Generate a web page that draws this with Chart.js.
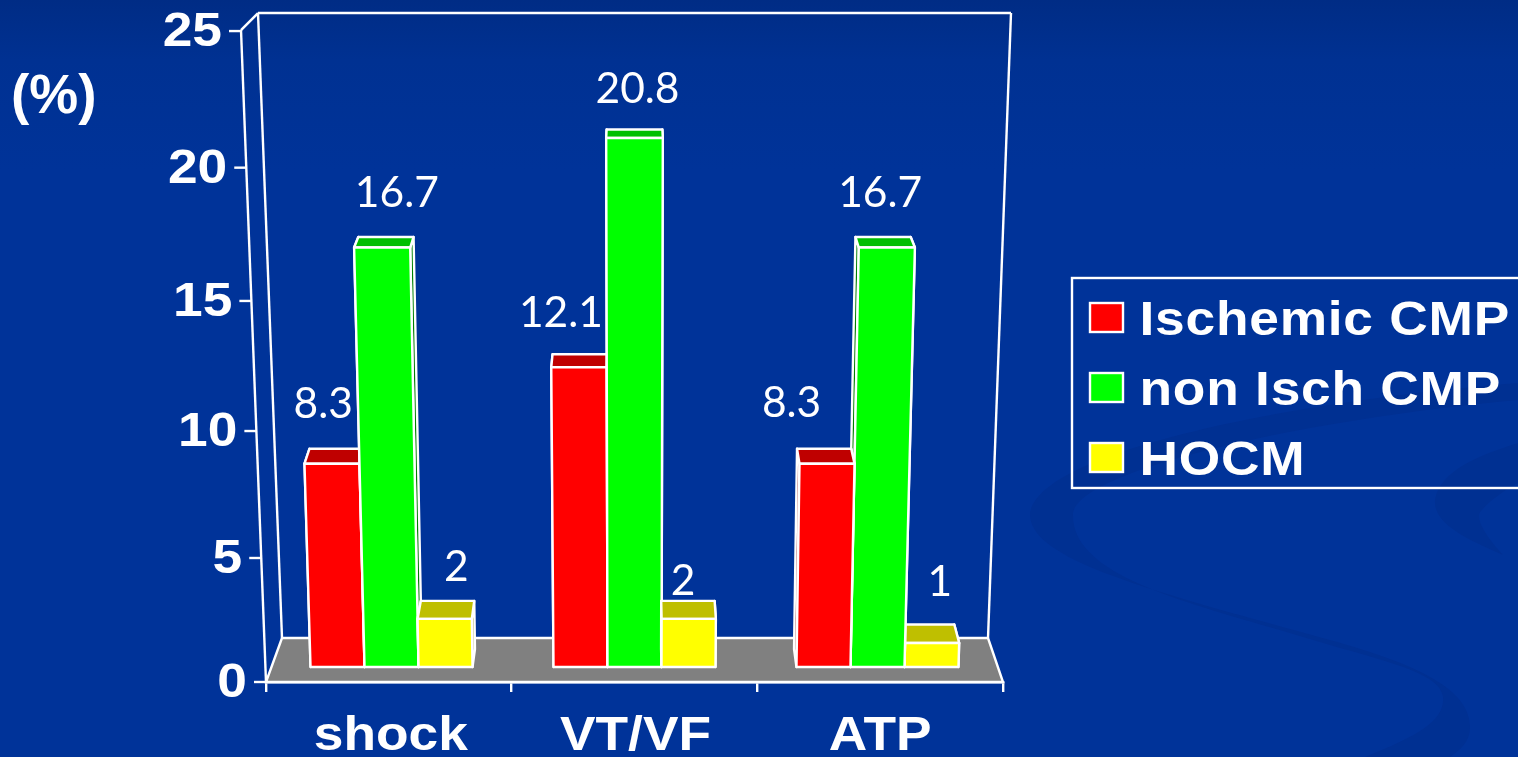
<!DOCTYPE html>
<html>
<head>
<meta charset="utf-8">
<title>Events by cardiomyopathy</title>
<script src="https://cdn.jsdelivr.net/npm/chart.js@4"></script>
<style>
  html, body { margin: 0; height: 100%; overflow: hidden; background: #003399; }
  #slide { position: absolute; left: 0; top: 0; width: 1518px; height: 757px;
           background: linear-gradient(#002c85 0, #003192 60px, #003399 170px); }
  #swirl, #analysisChart { position: absolute; left: 0; top: 0; }
</style>
</head>
<body>
<div id="slide">
  <svg id="swirl" width="1518" height="757">
    <path fill="#003092" d="M1518 383 C1300 400 1040 450 1030 513 C1028 560 1150 590 1330 640 C1420 665 1470 690 1470 727 C1470 742 1460 750 1450 757 L1365 757 C1420 735 1445 720 1443 697 C1440 675 1400 665 1330 645 C1200 605 1070 580 1073 513 C1080 470 1300 420 1518 400 Z"/>
    <path fill="#003092" d="M1518 443 C1480 455 1440 470 1435 500 C1433 525 1470 540 1503 555 C1480 530 1475 515 1482 510 C1490 500 1505 490 1518 483 Z"/>
  </svg>
  <canvas id="analysisChart" width="1518" height="757"></canvas>
</div>
<script>
const categories = ['shock', 'VT/VF', 'ATP'];
const ischemic = [8.3, 12.1, 8.3];
const nonIsch = [16.7, 20.8, 16.7];
const hocm = [2, 2, 1];
const percentTicks = [0, 5, 10, 15, 20, 25];

// value label offsets from each bar's top, [dx, dy], one row per series
const labelNudges = [
    [[-11, 46], [-19, 40], [-34, 47]],
    [[8, 41], [3, 35], [0, 41]],
    [[13, 38], [-6, 24], [5, 47]]
];
const categoryNudges = [2, 1, 0];

const VANISH_X = 634.5;  // bars fan out from this x as they get taller
const SQUEEZE = 0.989;   // bars stand a little behind the front edge of the floor
const FAN = 0.0023;
const BACK = 0.985;
const BOLD = 'bold 48px "Liberation Sans"';
const WIDE = 1.11;       // the bold captions are set extended
const STROKE = 2.4;

function shade(hex, f) {
    const n = parseInt(hex.slice(1), 16);
    const c = [n >> 16, (n >> 8) & 255, n & 255].map(v => Math.round(v * f));
    return `rgb(${c.join(',')})`;
}

function quad(ctx, pts, fill) {
    ctx.beginPath();
    pts.forEach((p, i) => i ? ctx.lineTo(p[0], p[1]) : ctx.moveTo(p[0], p[1]));
    ctx.closePath();
    ctx.fillStyle = fill;
    ctx.fill();
    ctx.stroke();
}

function wideText(ctx, text, x, y) {
    ctx.save();
    ctx.translate(x, y);
    ctx.scale(WIDE, 1);
    ctx.fillText(text, 0, 0);
    ctx.restore();
}

// linear axis seen at an angle, the steps grow slowly with the value
class PerspectiveScale extends Chart.LinearScale {
    static id = 'perspective';
    static defaults = Chart.LinearScale.defaults;
    getPixelForValue(value) {
        const { lift, rate, bend } = this.options;
        return this.bottom - lift - rate * value / (1 - bend * value);
    }
}

// box shaped bar: side faces, darker top and a front face
class Box3d extends Chart.BarElement {
    static id = 'box3d';
    static defaults = Chart.BarElement.defaults;
    draw(ctx) {
        const { x, y, base, width } = this.getProps(['x', 'y', 'base', 'width'], false);
        const color = this.options.backgroundColor;
        const value = (base - y) / 25;
        const depth = 19 - 0.5 * value;
        const fan = 1 + FAN * value;

        const l0 = VANISH_X + (x - width / 2 - VANISH_X) * SQUEEZE;
        const r0 = VANISH_X + (x + width / 2 - VANISH_X) * SQUEEZE;
        const l1 = VANISH_X + (l0 - VANISH_X) * fan;
        const r1 = VANISH_X + (r0 - VANISH_X) * fan;
        const back = px => VANISH_X + (px - VANISH_X) * BACK;

        ctx.save();
        ctx.strokeStyle = '#ffffff';
        ctx.lineWidth = STROKE;
        ctx.lineJoin = 'round';
        const side = shade(color, 0.5);
        quad(ctx, [[l1, y], [back(l1), y - depth], [back(l0), base - 18], [l0, base]], side);
        quad(ctx, [[r1, y], [back(r1), y - depth], [back(r0), base - 18], [r0, base]], side);
        quad(ctx, [[l1, y], [back(l1), y - depth], [back(r1), y - depth], [r1, y]], shade(color, 0.75));
        quad(ctx, [[l1, y], [r1, y], [r0, base], [l0, base]], color);
        ctx.restore();
    }
}

class Box3dController extends Chart.BarController {
    static id = 'box3d';
    static defaults = { dataElementType: 'box3d' };
}

Chart.register(PerspectiveScale, Box3d, Box3dController);

// walls, floor and the slanted value axis
const roomPlugin = {
    id: 'room',
    beforeDatasetsDraw(chart) {
        const { ctx, chartArea: a, scales } = chart;
        const axis = scales.y;
        const topY = axis.getPixelForValue(25);
        const slant = 25 / (a.bottom - topY);
        const line = (x1, y1, x2, y2) => {
            ctx.beginPath();
            ctx.moveTo(x1, y1);
            ctx.lineTo(x2, y2);
            ctx.stroke();
        };

        ctx.save();
        ctx.strokeStyle = '#ffffff';
        ctx.lineWidth = STROKE;
        ctx.beginPath();
        ctx.moveTo(a.left + 16, a.bottom - 44);
        ctx.lineTo(a.right - 15, a.bottom - 44);
        ctx.lineTo(a.right, a.bottom);
        ctx.lineTo(a.left, a.bottom);
        ctx.closePath();
        ctx.fillStyle = '#808080';
        ctx.fill();
        ctx.stroke();

        line(a.left - 25, topY - 1, a.left - 8, topY - 18);
        line(a.left - 8, topY - 18, a.right + 8, topY - 18);
        line(a.left - 8, topY - 18, a.left + 16, a.bottom - 44);
        line(a.right + 8, topY - 18, a.right - 15, a.bottom - 44);
        line(a.left - 25, topY - 1, a.left, a.bottom);

        ctx.fillStyle = '#ffffff';
        ctx.font = BOLD;
        ctx.textAlign = 'right';
        ctx.textBaseline = 'middle';
        axis.ticks.forEach((tick, i) => {
            const py = axis.getPixelForTick(i);
            const ax = a.left - (a.bottom - py) * slant;
            line(ax - 12, py, ax, py);
            wideText(ctx, String(tick.value), ax - 19, py + 2);
        });
        ctx.restore();
    },
    beforeDatasetDraw() {
        return false;
    },
    afterDatasetsDraw(chart) {
        // bars are painted from the outside of the room towards the middle
        const metas = chart.data.datasets.map((ds, i) => chart.getDatasetMeta(i));
        categories.forEach((name, j) => {
            const rightSide = metas[1].data[j].x > VANISH_X + 50;
            const row = rightSide ? [...metas].reverse() : metas;
            row.forEach(meta => meta.data[j].draw(chart.ctx));
        });
    },
    afterDraw(chart) {
        const { ctx, scales } = chart;
        ctx.save();
        ctx.fillStyle = '#ffffff';
        ctx.textBaseline = 'alphabetic';

        // value labels
        ctx.font = '42.5px Lato';
        ctx.textAlign = 'center';
        chart.data.datasets.forEach((ds, i) => {
            chart.getDatasetMeta(i).data.forEach((bar, j) => {
                const [dx, dy] = labelNudges[i][j];
                ctx.fillText(String(ds.data[j]), bar.x + dx, bar.y - dy);
            });
        });

        // category names under the floor
        ctx.font = BOLD;
        scales.x.ticks.forEach((tick, i) => {
            wideText(ctx, tick.label, scales.x.getPixelForTick(i) + categoryNudges[i], 750);
        });

        // unit
        ctx.font = 'bold 55px "Liberation Sans"';
        ctx.textAlign = 'left';
        ctx.fillText('(%)', 11, 113);

        // legend box
        ctx.font = BOLD;
        ctx.letterSpacing = '0.7px';
        ctx.strokeStyle = '#ffffff';
        ctx.lineWidth = STROKE;
        ctx.strokeRect(1072, 278, 460, 210);
        chart.data.datasets.forEach((ds, i) => {
            const y = 303 + i * 70;
            ctx.fillStyle = ds.backgroundColor;
            ctx.fillRect(1090, y, 33, 29);
            ctx.strokeRect(1090, y, 33, 29);
            ctx.fillStyle = '#ffffff';
            wideText(ctx, ds.label, 1139.5, 335 + i * 70);
        });
        ctx.restore();
    }
};

const ctx = document.getElementById('analysisChart').getContext('2d');

new Chart(ctx, {
    type: 'box3d',
    data: {
        labels: categories,
        datasets: [
            { label: 'Ischemic CMP', data: ischemic, backgroundColor: '#ff0000', yAxisID: 'yBars' },
            { label: 'non Isch CMP', data: nonIsch, backgroundColor: '#00ff00', yAxisID: 'yBars' },
            { label: 'HOCM', data: hocm, backgroundColor: '#ffff00', yAxisID: 'yBars' }
        ]
    },
    options: {
        responsive: false,
        animation: false,
        events: [],
        barPercentage: 1,
        categoryPercentage: 0.6667,
        layout: { padding: { left: 0, top: 31, right: 515, bottom: 0 } },
        plugins: { legend: { display: false }, tooltip: { enabled: false } },
        scales: {
            x: {
                type: 'category',
                offset: true,
                afterFit: s => { s.height = 75; },
                border: { color: '#ffffff', width: 2.4 },
                grid: { offset: true, drawOnChartArea: false, color: '#ffffff', lineWidth: 2.4, tickLength: 10 },
                ticks: { display: false, autoSkip: false }
            },
            y: {
                type: 'perspective',
                min: 0,
                max: 25,
                lift: 0,
                rate: 24.508,
                bend: 0.00235,
                afterFit: s => { s.width = 266; },
                afterBuildTicks: s => { s.ticks = percentTicks.map(value => ({ value })); },
                border: { display: false },
                grid: { display: false },
                ticks: { display: false }
            },
            yBars: {
                type: 'perspective',
                position: 'left',
                display: false,
                min: 0,
                max: 25,
                lift: 15,
                rate: 23.9,
                bend: 0.0029
            }
        }
    },
    plugins: [roomPlugin]
});
</script>
</body>
</html>
